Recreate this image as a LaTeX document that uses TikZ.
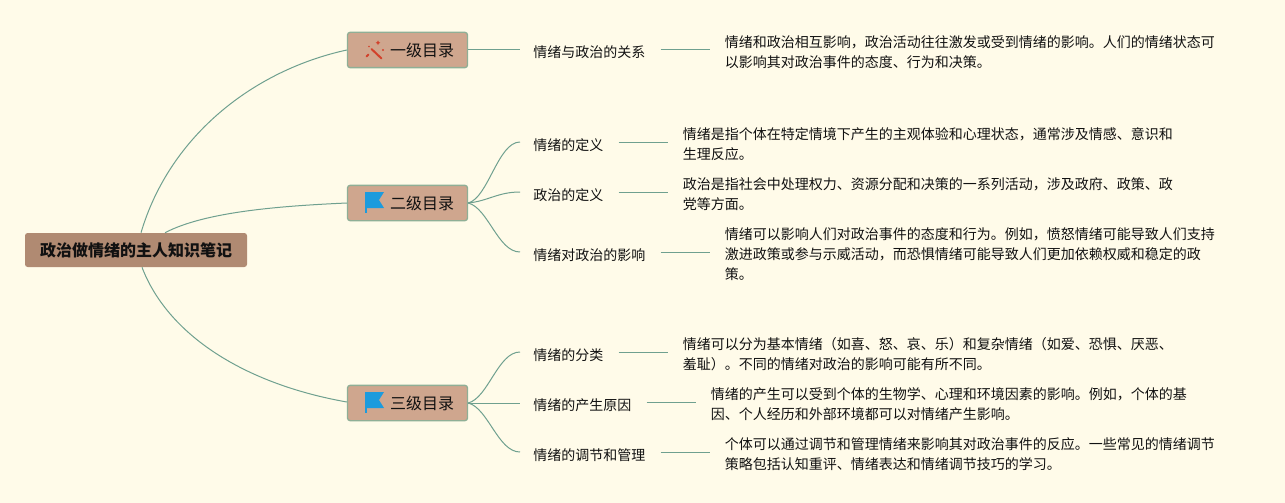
\documentclass[tikz,border=0pt]{standalone}
\usepackage{fontspec}
\setmainfont{Noto Sans CJK SC}
\usetikzlibrary{calc}
\definecolor{bgc}{HTML}{FFFBE9}
\definecolor{rootc}{HTML}{B08A72}
\definecolor{boxc}{HTML}{CFA68E}
\definecolor{boxl}{HTML}{8FAF96}
\definecolor{linec}{HTML}{6FA08F}
\definecolor{flagc}{HTML}{1C9BDD}
\definecolor{wandc}{HTML}{D2412B}
\definecolor{txtc}{HTML}{111111}
\tikzset{
  x=0.75pt,y=-0.75pt,
  link/.style={draw=linec,line width=0.75pt},
  rootnode/.style={fill=rootc,rounded corners=2pt,minimum width=166.5pt,minimum height=25.5pt,inner sep=0pt,text=txtc,font=\fontsize{12}{14}\selectfont\bfseries},
  topic/.style={fill=boxc,draw=boxl,line width=1pt,rounded corners=2pt,minimum width=90pt,minimum height=26.5pt,inner sep=0pt,text=txtc,font=\fontsize{12}{14}\selectfont},
  subnode/.style={anchor=west,inner xsep=0pt,inner ysep=2pt,text=txtc,font=\fontsize{10.5}{15}\selectfont},
  detail/.style={anchor=west,inner xsep=0pt,inner ysep=2pt,align=left,text=txtc,font=\fontsize{10.5}{15}\selectfont},
}
\begin{document}
\begin{tikzpicture}
\useasboundingbox (0,0) rectangle (1285,503);
\fill[bgc] (0,0) rectangle (1285,503);

\node[rootnode] (root) at (136,250) {\raisebox{-0.6pt}{政治做情绪的主人知识笔记}};
\node[topic] (t1) at (407.5,50) {\hspace*{22pt}\raisebox{-0.6pt}{一级目录}};
\node[topic] (t2) at (407.5,203) {\hspace*{22pt}\raisebox{-0.6pt}{二级目录}};
\node[topic] (t3) at (407.5,403) {\hspace*{22pt}\raisebox{-0.6pt}{三级目录}};

\node[subnode] (s1) at (533,52) {情绪与政治的关系};
\node[subnode] (s2) at (533,145) {情绪的定义};
\node[subnode] (s3) at (533,195) {政治的定义};
\node[subnode] (s4) at (533,255) {情绪对政治的影响};
\node[subnode] (s5) at (533,355) {情绪的分类};
\node[subnode] (s6) at (533,405) {情绪的产生原因};
\node[subnode] (s7) at (533,455) {情绪的调节和管理};

\node[detail] (d1) at (724.5,52) {情绪和政治相互影响，政治活动往往激发或受到情绪的影响。人们的情绪状态可\\以影响其对政治事件的态度、行为和决策。};
\node[detail] (d2) at (682.5,144.5) {情绪是指个体在特定情境下产生的主观体验和心理状态，通常涉及情感、意识和\\生理反应。};
\node[detail] (d3) at (682.5,194.5) {政治是指社会中处理权力、资源分配和决策的一系列活动，涉及政府、政策、政\\党等方面。};
\node[detail] (d4) at (724.5,254.5) {情绪可以影响人们对政治事件的态度和行为。例如，愤怒情绪可能导致人们支持\\激进政策或参与示威活动，而恐惧情绪可能导致人们更加依赖权威和稳定的政\\策。};
\node[detail] (d5) at (682.5,354.5) {情绪可以分为基本情绪（如喜、怒、哀、乐）和复杂情绪（如爱、恐惧、厌恶、\\羞耻）。不同的情绪对政治的影响可能有所不同。};
\node[detail] (d6) at (710.5,404.5) {情绪的产生可以受到个体的生物学、心理和环境因素的影响。例如，个体的基\\因、个人经历和外部环境都可以对情绪产生影响。};
\node[detail] (d7) at (724.5,454.5) {个体可以通过调节和管理情绪来影响其对政治事件的反应。一些常见的情绪调节\\策略包括认知重评、情绪表达和情绪调节技巧的学习。};

% root to topics
\draw[link] ($(root.north)+(5,0)$) .. controls +(29,-98) and +(-92,20) .. (t1.west);
\draw[link] ($(root.north)+(29,0)$) .. controls +(40,-21) and +(-67,3) .. (t2.west);
\draw[link] ($(root.south)+(6,0)$) .. controls +(26,68) and +(-102,-18) .. ($(t3.west)+(0,-1)$);

% topics to subtopics
\draw[link] (t1.east) -- ($(s1.west)+(-13,-2)$);
\draw[link] (t2.east) .. controls +(20,-5) and +(-22,0) .. ($(s2.west)+(-13,-3)$);
\draw[link] (t2.east) .. controls +(20,-2) and +(-22,0) .. ($(s3.west)+(-13,-3)$);
\draw[link] (t2.east) .. controls +(20,5) and +(-22,0) .. ($(s4.west)+(-13,-3)$);
\draw[link] (t3.east) .. controls +(20,-5) and +(-22,0) .. ($(s5.west)+(-13,-3)$);
\draw[link] (t3.east) -- ($(s6.west)+(-13,-2)$);
\draw[link] (t3.east) .. controls +(20,5) and +(-22,0) .. ($(s7.west)+(-13,-3)$);

% subtopics to details
\draw[link] ($(s1.east)+(15,-2)$) -- ($(d1.west)+(-15,-2)$);
\draw[link] ($(s2.east)+(15,-3)$) -- ($(d2.west)+(-15,-2.5)$);
\draw[link] ($(s3.east)+(15,-3)$) -- ($(d3.west)+(-15,-2.5)$);
\draw[link] ($(s4.east)+(15,-3)$) -- ($(d4.west)+(-15,-2.5)$);
\draw[link] ($(s5.east)+(15,-3)$) -- ($(d5.west)+(-15,-2.5)$);
\draw[link] ($(s6.east)+(15,-3)$) -- ($(d6.west)+(-15,-2.5)$);
\draw[link] ($(s7.east)+(15,-3)$) -- ($(d7.west)+(-15,-2.5)$);

% wand icon
\draw[wandc,line width=1.5pt,line cap=round] (371.5,49) -- (381.5,58.5);
\draw[wandc,line width=1.5pt,line cap=round] (366.5,56.5) -- (368.5,54.5);
\fill[wandc] (378,40.5) -- (378.8,42) -- (380.3,42.8) -- (378.8,43.6) -- (378,45.1) -- (377.2,43.6) -- (375.7,42.8) -- (377.2,42) -- cycle;
\fill[wandc] (383,50) circle (1.1);
\fill[wandc] (369,46.5) circle (0.8);

% flag icons
\foreach \yy in {0,200}{
  \fill[flagc] (365,192+\yy) rectangle (366.5,213+\yy);
  \fill[flagc] (366.5,192+\yy) -- (384,192+\yy) -- (379,200+\yy) -- (384,208+\yy) -- (366.5,208+\yy) -- cycle;
}
\end{tikzpicture}
\end{document}
